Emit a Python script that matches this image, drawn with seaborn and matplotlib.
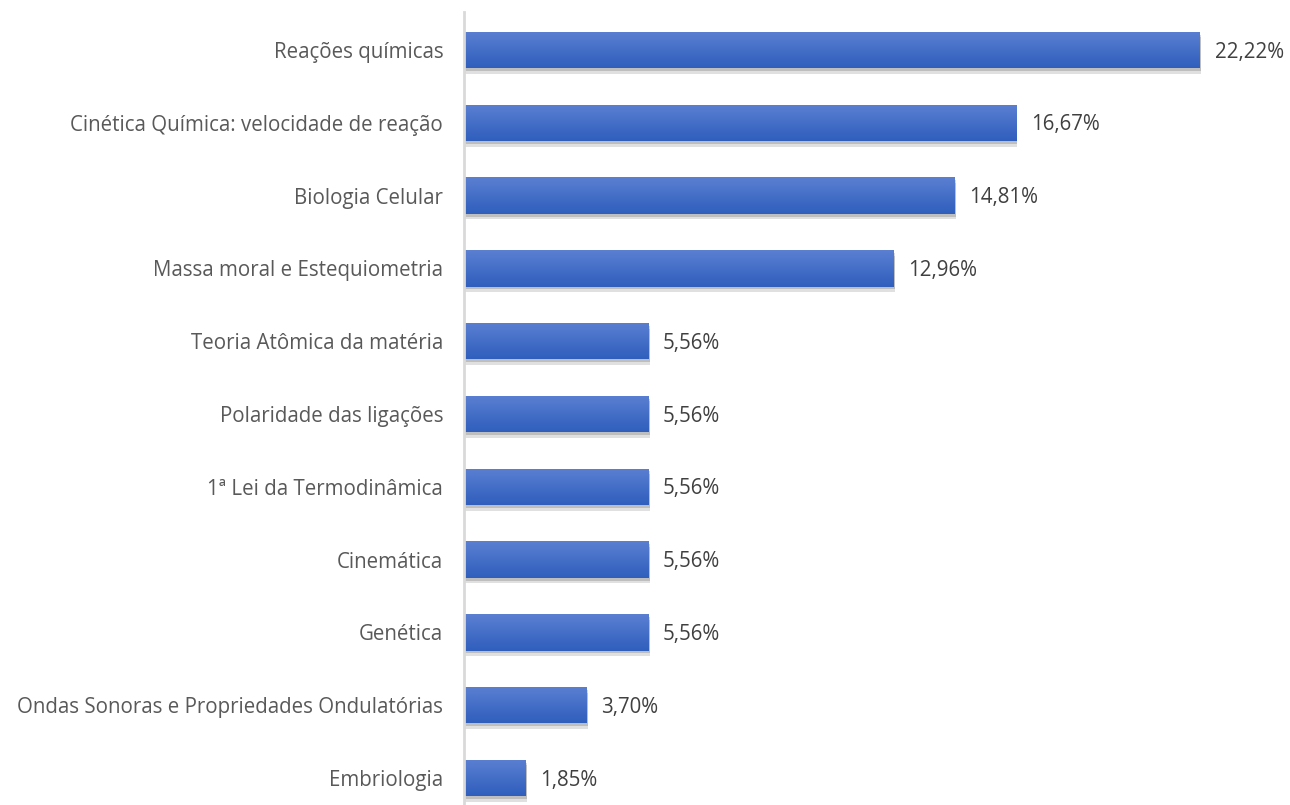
import numpy as np
import pandas as pd
import matplotlib
matplotlib.use("Agg")
import matplotlib.pyplot as plt
import matplotlib.patheffects as pe
import seaborn as sns

# Data
topics = ["Reações químicas", "Cinética Química: velocidade de reação", "Biologia Celular",
          "Massa moral e Estequiometria", "Teoria Atômica da matéria", "Polaridade das ligações",
          "1ª Lei da Termodinâmica", "Cinemática", "Genética",
          "Ondas Sonoras e Propriedades Ondulatórias", "Embriologia"]
percent = [22.22, 16.67, 14.81, 12.96, 5.56, 5.56, 5.56, 5.56, 5.56, 3.70, 1.85]

df = pd.DataFrame({"Tema": topics, "Percentual": percent})

sns.set_style("white")
plt.rcParams["font.family"] = ["Open Sans", "DejaVu Sans"]

fig = plt.figure(figsize=(12.9, 8.05), dpi=100)
ax = fig.add_axes([0.3597, 0.0, 0.6403, 0.985])

sns.barplot(data=df, x="Percentual", y="Tema", color="#4472C4", width=0.5, ax=ax,
            orient="h", linewidth=0)

# gradient fill + soft shadow on every bar
grad = np.linspace(0, 1, 256).reshape(-1, 1)
cmap = matplotlib.colors.LinearSegmentedColormap.from_list("g", ["#5B80D2", "#2F5EBD"])
for bar in ax.patches:
    x0, y0 = bar.get_x(), bar.get_y()
    w, h = bar.get_width(), bar.get_height()
    bar.set_path_effects([pe.SimplePatchShadow(offset=(1, -4), shadow_rgbFace="#000000", alpha=0.12),
                          pe.SimplePatchShadow(offset=(1, -2), shadow_rgbFace="#000000", alpha=0.15),
                          pe.Normal()])
    im = ax.imshow(grad, cmap=cmap, aspect="auto", extent=(x0, x0 + w, y0 + h, y0),
                   zorder=bar.get_zorder() + 0.1, interpolation="bilinear")
    im.set_clip_path(bar)

for bar, v in zip(ax.patches, percent):
    ax.text(bar.get_width() + 0.45, bar.get_y() + bar.get_height() / 2 + 0.03,
            f"{v:.2f}%".replace(".", ","), va="center", ha="left",
            fontsize=14.8, color="#404040")

ax.set_xlim(0, 24.94)
ax.set_ylim(10.37, -0.52)
ax.set_xlabel("")
ax.set_ylabel("")
ax.set_xticks([])
ax.tick_params(axis="y", length=0, pad=15, labelsize=14.8, labelcolor="#595959")
for s in ["top", "right", "bottom"]:
    ax.spines[s].set_visible(False)
ax.spines["left"].set_color("#d9d9d9")
ax.spines["left"].set_linewidth(2)

fig.savefig("out.png", dpi=100)
